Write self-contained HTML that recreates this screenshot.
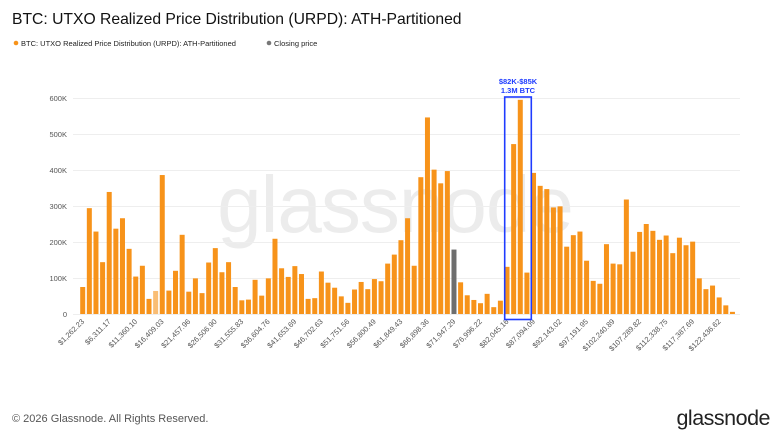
<!DOCTYPE html>
<html><head><meta charset="utf-8"><style>
html,body{margin:0;padding:0;background:#fff;width:782px;height:431px;overflow:hidden;font-family:"Liberation Sans",sans-serif}
svg{position:absolute;left:0;top:0}
</style></head><body>
<svg width="782" height="431" xmlns="http://www.w3.org/2000/svg" font-family="Liberation Sans, sans-serif">
<text x="12" y="24" font-size="15.7" fill="#111">BTC: UTXO Realized Price Distribution (URPD): ATH-Partitioned</text>
<circle cx="16" cy="43" r="2.3" fill="#f7931a"/>
<text x="21" y="46" font-size="7.5" fill="#222">BTC: UTXO Realized Price Distribution (URPD): ATH-Partitioned</text>
<circle cx="269" cy="43" r="2.3" fill="#777"/>
<text x="274" y="46" font-size="7.5" fill="#222">Closing price</text>
<text x="395" y="232" font-size="80" fill="#ececec" text-anchor="middle" letter-spacing="-1">glassnode</text>
<g id="grid" stroke="#eeeeee" stroke-width="1">
<line x1="73" x2="740" y1="98.5" y2="98.5"/><line x1="73" x2="740" y1="134.5" y2="134.5"/><line x1="73" x2="740" y1="170.5" y2="170.5"/><line x1="73" x2="740" y1="206.5" y2="206.5"/><line x1="73" x2="740" y1="242.5" y2="242.5"/><line x1="73" x2="740" y1="278.5" y2="278.5"/><line x1="73" x2="740" y1="314.5" y2="314.5"/>
</g>
<g font-size="7.5" fill="#555" text-anchor="end">
<text x="67" y="101">600K</text><text x="67" y="137">500K</text><text x="67" y="173">400K</text><text x="67" y="209">300K</text><text x="67" y="245">200K</text><text x="67" y="281">100K</text><text x="67" y="317">0</text>
</g>
<g id="bars"></g>
<g id="xl" font-size="7.5" fill="#555" text-anchor="end">
<text>$1,262.23</text><text>$6,311.17</text><text>$11,360.10</text><text>$16,409.03</text><text>$21,457.96</text><text>$26,506.90</text><text>$31,555.83</text><text>$36,604.76</text><text>$41,653.69</text><text>$46,702.63</text><text>$51,751.56</text><text>$56,800.49</text><text>$61,849.43</text><text>$66,898.36</text><text>$71,947.29</text><text>$76,996.22</text><text>$82,045.16</text><text>$87,094.09</text><text>$92,143.02</text><text>$97,191.95</text><text>$102,240.89</text><text>$107,289.82</text><text>$112,338.75</text><text>$117,387.69</text><text>$122,436.62</text>
</g>
<rect x="504.7" y="97" width="26.6" height="222.5" fill="none" stroke="#1f3cff" stroke-width="1.6"/>
<text x="518" y="84" font-size="7.5" font-weight="bold" fill="#1f3cff" text-anchor="middle">$82K-$85K</text>
<text x="518" y="93" font-size="7.5" font-weight="bold" fill="#1f3cff" text-anchor="middle">1.3M BTC</text>
<text x="12" y="422" font-size="11" fill="#555">© 2026 Glassnode. All Rights Reserved.</text>
<text x="770" y="425" font-size="21.5" fill="#222" text-anchor="end" letter-spacing="-0.5">glassnode</text>
</svg>
<script>
var v=[75,294,229,144,339,237,266,181,104,134,42,64,386,65,120,220,62,99,58,143,183,116,144,75,38,40,95,51,99,209,127,103,133,111,42,44,118,87,73,49,31,68,89,69,97,91,140,165,205,266,134,380,546,401,363,397,179,88,52,39,30,56,19,37,131,472,595,115,392,356,347,296,299,187,219,229,148,92,84,194,140,138,318,173,228,250,231,206,218,169,212,191,201,99,69,79,46,24,6];
var g=document.getElementById('bars'),s='';
for(var i=0;i<v.length;i++){var h=v[i]*0.36,x=80.2+i*6.63;var c=i==11?'#f9bd74':(i==56?'#6e6e6e':'#f7931a');
s+='<rect x="'+x.toFixed(2)+'" y="'+(314-h).toFixed(2)+'" width="5" height="'+h.toFixed(2)+'" fill="'+c+'"/>';}
g.innerHTML=s;
var t=document.querySelectorAll('#xl text');
for(var k=0;k<t.length;k++){var cx=82.7+k*26.52;t[k].setAttribute('transform','translate('+(cx+2)+',322) rotate(-45)');}
</script>
</body></html>
